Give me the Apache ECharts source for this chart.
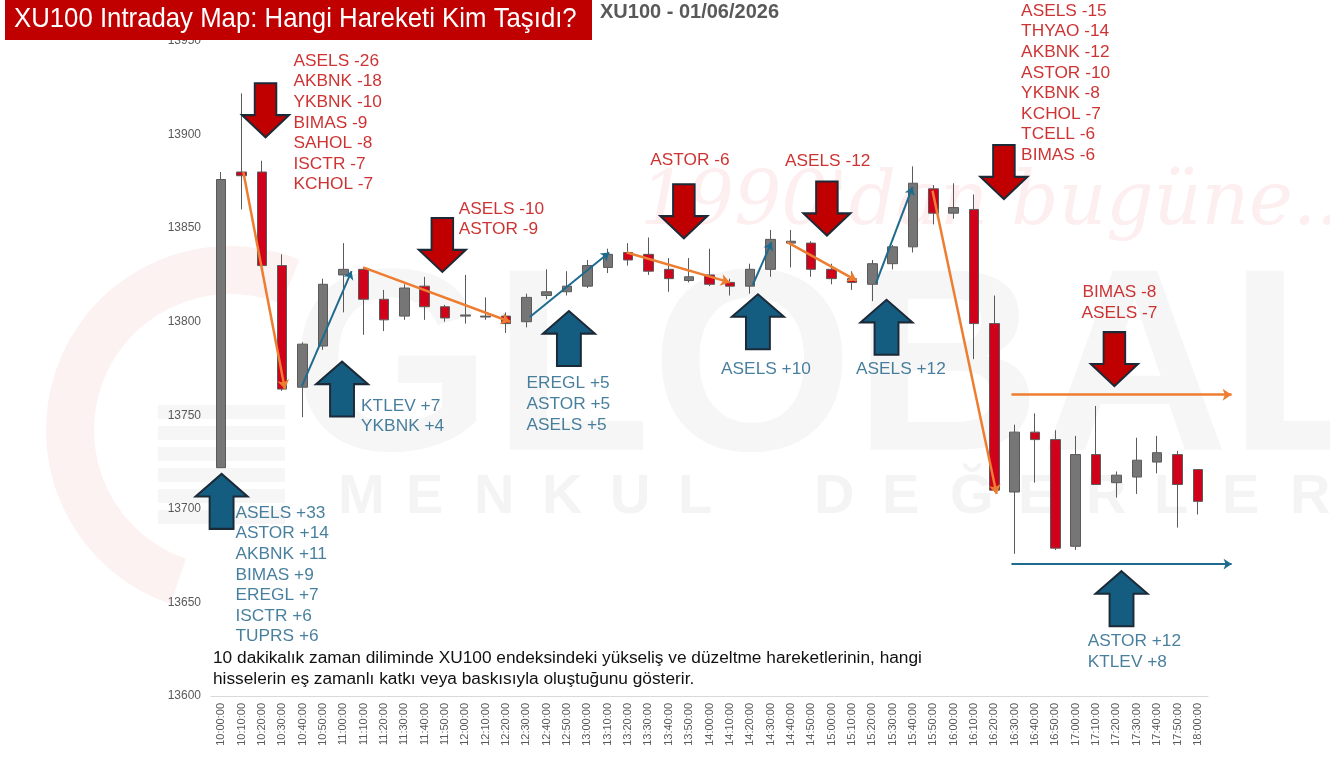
<!DOCTYPE html>
<html>
<head>
<meta charset="utf-8">
<title>XU100 Intraday Map</title>
<script src="https://cdn.jsdelivr.net/npm/echarts/dist/echarts.min.js"></script>
<style>
  html, body { margin: 0; padding: 0; background: #fff; }
  #chart { width: 1330px; height: 758px; }
</style>
</head>
<body>
<div id="chart"></div>
<script>
// 10 dakikalık mumlar
const times = [
  '10:00:00', '10:10:00', '10:20:00', '10:30:00', '10:40:00', '10:50:00',
  '11:00:00', '11:10:00', '11:20:00', '11:30:00', '11:40:00', '11:50:00',
  '12:00:00', '12:10:00', '12:20:00', '12:30:00', '12:40:00', '12:50:00',
  '13:00:00', '13:10:00', '13:20:00', '13:30:00', '13:40:00', '13:50:00',
  '14:00:00', '14:10:00', '14:20:00', '14:30:00', '14:40:00', '14:50:00',
  '15:00:00', '15:10:00', '15:20:00', '15:30:00', '15:40:00', '15:50:00',
  '16:00:00', '16:10:00', '16:20:00', '16:30:00', '16:40:00', '16:50:00',
  '17:00:00', '17:10:00', '17:20:00', '17:30:00', '17:40:00', '17:50:00',
  '18:00:00'
];
const opens = [
  13722, 13880, 13880, 13830, 13765, 13787, 13825, 13828, 13812, 13803, 13819, 13808,
  13803, 13802.5, 13803, 13800, 13814, 13816, 13819, 13829, 13837, 13836, 13828, 13822,
  13825, 13821, 13819, 13828, 13842, 13842, 13828, 13823, 13820, 13831, 13840, 13871,
  13858, 13860, 13799, 13709, 13741, 13737, 13680, 13729, 13714, 13717, 13725, 13729,
  13721
];
const closes = [
  13876, 13878, 13830, 13764, 13788, 13820, 13828, 13812, 13801, 13818, 13808, 13802,
  13803.6, 13803, 13799, 13813, 13816, 13819, 13830, 13836, 13833, 13827, 13823, 13824,
  13820, 13819, 13828, 13844, 13843, 13828, 13823, 13821, 13831, 13840, 13874, 13858,
  13861, 13799, 13710, 13741, 13737, 13679, 13729, 13713, 13718, 13726, 13730, 13713,
  13704
];
const lows = [
  13722, 13860, 13830, 13763, 13749, 13785, 13805, 13793, 13795, 13801, 13801, 13800,
  13799, 13801, 13794, 13797, 13812, 13814, 13818, 13826, 13830, 13825, 13816, 13821,
  13819, 13814, 13815, 13824, 13829, 13824, 13820, 13817, 13811, 13828, 13837, 13852,
  13855, 13780, 13709, 13676, 13714, 13678, 13678, 13713, 13706, 13708, 13719, 13690,
  13697
];
const highs = [
  13880, 13922, 13886, 13836, 13789, 13823, 13842, 13829, 13817, 13820, 13824, 13809,
  13825, 13813, 13805, 13815, 13828, 13827, 13833, 13839, 13842, 13845, 13834, 13834,
  13839, 13823, 13831, 13849, 13849, 13843, 13831, 13827, 13833, 13841, 13883, 13873,
  13874, 13868, 13814, 13745, 13751, 13742, 13739, 13755, 13720, 13738, 13739, 13731,
  13721
];

// baskı (kırmızı) ve katkı (mavi) notları
const downNotes = [
  ['ASELS -26', 'AKBNK -18', 'YKBNK -10', 'BIMAS -9', 'SAHOL -8', 'ISCTR -7', 'KCHOL -7'],
  ['ASELS -10', 'ASTOR -9'],
  ['ASTOR -6'],
  ['ASELS -12'],
  ['ASELS -15', 'THYAO -14', 'AKBNK -12', 'ASTOR -10', 'YKBNK -8', 'KCHOL -7', 'TCELL -6', 'BIMAS -6'],
  ['BIMAS -8', 'ASELS -7']
];
const upNotes = [
  ['ASELS +33', 'ASTOR +14', 'AKBNK +11', 'BIMAS +9', 'EREGL +7', 'ISCTR +6', 'TUPRS +6'],
  ['KTLEV +7', 'YKBNK +4'],
  ['EREGL +5', 'ASTOR +5', 'ASELS +5'],
  ['ASELS +10'],
  ['ASELS +12'],
  ['ASTOR +12', 'KTLEV +8']
];

// trend okları: [başlangıç idx, değer, bitiş idx, değer]
const downMoves = [
  [1.09, 13880, 3.13, 13764],
  [6.98, 13829, 14.2, 13800],
  [19.93, 13837, 25.0, 13821],
  [27.82, 13842.5, 31.23, 13822],
  [34.96, 13870, 38.11, 13708],
  [38.84, 13761, 49.66, 13761]
];
const upMoves = [
  [3.96, 13765.5, 6.41, 13827],
  [15.17, 13802.5, 19.07, 13837],
  [26.12, 13819.5, 27.05, 13842.5],
  [32.18, 13820.5, 33.98, 13872],
  [38.84, 13670.5, 49.66, 13670.5]
];

// yerleşim (idx, değer) — oklar ve yazılar
const downArrowAt = [[2.18, 13913], [10.87, 13841], [22.74, 13859], [29.77, 13860.5], [38.47, 13880], [43.9, 13780]];
const upArrowAt = [[0.02, 13704], [5.94, 13764], [17.09, 13791], [26.38, 13800], [32.7, 13797], [44.25, 13652]];
const downNoteAt = [[3.58, 13944.5, 'left'], [11.7, 13865.4, 'left'], [23.06, 13891.3, 'center'], [29.83, 13890.8, 'center'], [39.34, 13971.2, 'left'], [44.17, 13820.8, 'center']];
const upNoteAt = [[0.73, 13703, 'left'], [6.9, 13760.3, 'left'], [15.03, 13772.1, 'left'], [26.8, 13780.1, 'center'], [33.43, 13780.1, 'center'], [42.61, 13634.5, 'left']];

const RED = '#c00000';
const RED_TXT = '#c00000';
const BLUE = '#155d80';
const BLUE_TXT = '#1a5f84';
const ORANGE = '#ed7d31';
const LINE_BLUE = '#1f6b8e';
const OUTLINE = '#1c2a38';
const FONT = "'Liberation Sans', Arial, sans-serif";

const ohlc = times.map((t, i) => [opens[i], closes[i], lows[i], highs[i]]);

const downArrow = 'path://M27,0 L73,0 L73,59 L100,59 L50,100 L0,59 L27,59 Z';
const upArrow = 'path://M50,0 L100,41 L73,41 L73,100 L27,100 L27,41 L0,41 Z';

function noteData(notes, at) {
  return notes.map((lines, i) => ({
    value: [at[i][0], at[i][1]],
    name: lines.join('\n'),
    label: { align: at[i][2] }
  }));
}
function moveData(moves) {
  return moves.map(m => ({ coords: [[m[0], m[1]], [m[2], m[3]]] }));
}
function noteSeries(data, color) {
  return {
    type: 'scatter',
    xAxisIndex: 1,
    yAxisIndex: 0,
    clip: false,
    symbol: 'rect',
    symbolSize: 1,
    itemStyle: { color: 'transparent' },
    z: 6,
    silent: true,
    label: {
      show: true,
      position: [0, 0],
      verticalAlign: 'top',
      formatter: p => p.name,
      color: color,
      fontSize: 17.3,
      lineHeight: 20.6,
      fontFamily: FONT
    },
    data: data
  };
}

// arka plan filigranı
const watermark = [];
watermark.push({
  type: 'arc', z: -10, silent: true,
  shape: { cx: 230, cy: 430, r: 160, startAngle: 1.9, endAngle: 5.1 },
  style: { stroke: '#fdf2f2', lineWidth: 48, fill: null }
});
for (let k = 0; k < 6; k++) {
  watermark.push({
    type: 'rect', z: -10, silent: true,
    shape: { x: 158, y: 405 + k * 21, width: 127, height: 14 },
    style: { fill: '#f6f6f6' }
  });
}
watermark.push({
  type: 'text', z: -10, silent: true, left: 290, top: 248,
  style: { text: 'GLOBAL', font: "bold 260px 'Liberation Sans'", fill: '#f6f6f6' }
});
const menkul = 'MENKUL DEĞERLER';
for (let k = 0; k < menkul.length; k++) {
  if (menkul[k] === ' ') continue;
  watermark.push({
    type: 'text', z: -9, silent: true, left: 338 + k * 68, top: 470,
    style: { text: menkul[k], font: "bold 56px 'Liberation Sans'", fill: '#f4f4f4' }
  });
}
watermark.push({
  type: 'text', z: -9, silent: true, left: 640, top: 168,
  style: { text: "1990'dan bugüne...", font: "italic 74px 'DejaVu Serif'", fill: '#fdeef0' }
});

const chart = echarts.init(document.getElementById('chart'));
chart.setOption({
  animation: false,
  backgroundColor: '#ffffff',
  grid: { left: 211, right: 122, top: 41, bottom: 62 },
  graphic: watermark.concat([
    {
      type: 'rect', z: 100, shape: { x: 5, y: 0, width: 587, height: 40 },
      style: { fill: RED }
    },
    {
      type: 'text', z: 101, x: 14, y: 5, scaleX: 0.92,
      style: { text: 'XU100 Intraday Map: Hangi Hareketi Kim Taşıdı?', font: "28px 'Liberation Sans'", fill: '#fff' }
    },
    {
      type: 'text', z: 101, left: 600, top: 2,
      style: { text: 'XU100 - 01/06/2026', font: "bold 20px 'Liberation Sans'", fill: '#595959' }
    },
    {
      type: 'text', z: 101, left: 213, top: 650,
      style: { text: '10 dakikalık zaman diliminde XU100 endeksindeki yükseliş ve düzeltme hareketlerinin, hangi', font: "17.3px 'Liberation Sans'", fill: '#111' }
    },
    {
      type: 'text', z: 101, left: 213, top: 671,
      style: { text: 'hisselerin eş zamanlı katkı veya baskısıyla oluştuğunu gösterir.', font: "17.3px 'Liberation Sans'", fill: '#111' }
    }
  ]),
  xAxis: [
    {
      type: 'category',
      data: times,
      boundaryGap: true,
      axisTick: { show: false },
      axisLine: { lineStyle: { color: '#d9d9d9' } },
      axisLabel: { rotate: 90, interval: 0, fontSize: 11, color: '#595959', margin: 7, fontFamily: FONT }
    },
    { type: 'value', min: -0.5, max: 48.5, show: false }
  ],
  yAxis: {
    type: 'value',
    min: 13600,
    max: 13950,
    interval: 50,
    splitLine: { show: false },
    axisLine: { show: false },
    axisTick: { show: false },
    axisLabel: { fontSize: 12, color: '#595959', margin: 10, fontFamily: FONT, formatter: v => String(v) }
  },
  series: [
    {
      type: 'candlestick',
      xAxisIndex: 0,
      data: ohlc,
      barWidth: 10,
      z: 2,
      itemStyle: {
        color: '#767676',
        color0: '#d0021b',
        borderColor: '#5a5a5a',
        borderColor0: '#5a5a5a',
        borderWidth: 1
      }
    },
    {
      type: 'lines',
      coordinateSystem: 'cartesian2d',
      xAxisIndex: 1,
      yAxisIndex: 0,
      clip: false,
      z: 3,
      symbol: ['none', 'arrow'],
      symbolSize: 9,
      lineStyle: { color: ORANGE, width: 2.5, opacity: 1 },
      data: moveData(downMoves)
    },
    {
      type: 'lines',
      coordinateSystem: 'cartesian2d',
      xAxisIndex: 1,
      yAxisIndex: 0,
      clip: false,
      z: 3,
      symbol: ['none', 'arrow'],
      symbolSize: 8,
      lineStyle: { color: LINE_BLUE, width: 2, opacity: 1 },
      data: moveData(upMoves)
    },
    {
      type: 'scatter',
      xAxisIndex: 1,
      yAxisIndex: 0,
      clip: false,
      z: 5,
      silent: true,
      symbol: downArrow,
      symbolSize: [47, 54],
      itemStyle: { color: RED, borderColor: OUTLINE, borderWidth: 2, opacity: 1 },
      data: downArrowAt
    },
    {
      type: 'scatter',
      xAxisIndex: 1,
      yAxisIndex: 0,
      clip: false,
      z: 5,
      silent: true,
      symbol: upArrow,
      symbolSize: [52, 55],
      itemStyle: { color: BLUE, borderColor: OUTLINE, borderWidth: 2, opacity: 1 },
      data: upArrowAt
    },
    noteSeries(noteData(downNotes, downNoteAt), RED_TXT),
    noteSeries(noteData(upNotes, upNoteAt), BLUE_TXT)
  ]
});
</script>
</body>
</html>
